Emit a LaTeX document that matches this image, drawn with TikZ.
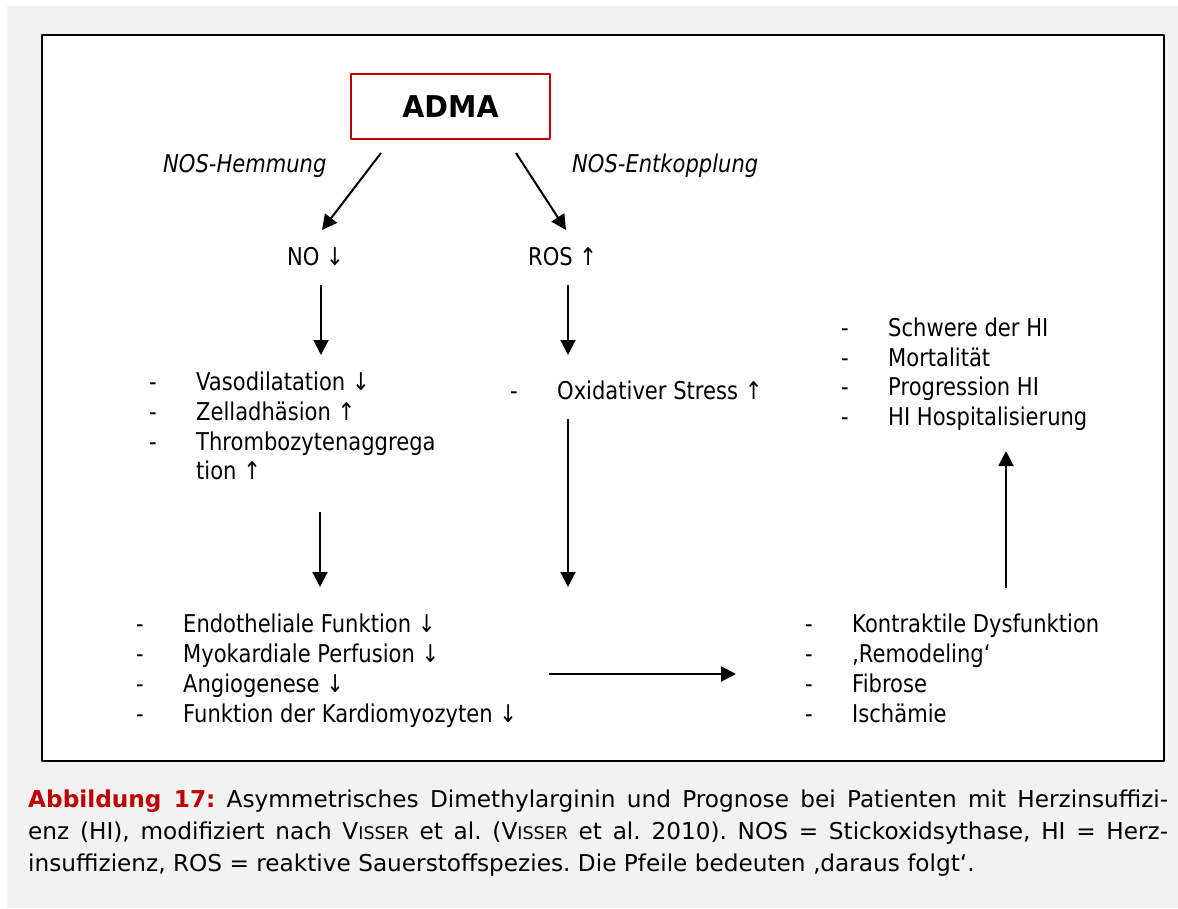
\documentclass[tikz,border=0pt]{standalone}
\usepackage{fontspec}
\setmainfont{DejaVu Sans}[FakeStretch=0.86, BoldFeatures={FakeStretch=0.95}]
\newfontfamily\capfont{DejaVu Sans}
\usetikzlibrary{arrows.meta}
\definecolor{abbrot}{HTML}{C00000}
\definecolor{hgrau}{HTML}{F2F2F2}
\newcommand{\strich}{\makebox[47pt][l]{-}}
\newcommand{\kap}[1]{{\fontsize{17.5}{20}\selectfont #1}}
\frenchspacing

\begin{document}
\begin{tikzpicture}[x=1pt, y=-1pt, line join=round,
  txt/.style={anchor=base west, inner sep=0pt, font=\fontsize{24.5}{29}\selectfont},
  kurs/.style={txt, font=\fontsize{24.5}{29}\selectfont\itshape},
  capt/.style={anchor=base west, inner sep=0pt, font=\capfont\fontsize{23.2}{27}\selectfont},
  pfeil/.style={line width=2pt, -{Triangle[length=15pt,width=15pt]}}]
\useasboundingbox (0,0) rectangle (1178,908);
\fill[white] (0,0) rectangle (1178,908);
\fill[hgrau] (7,6) rectangle (1178,908);
\draw[line width=2pt, fill=white] (42,35) rectangle (1164,761);

% Kopf
\node[draw=abbrot, line width=2pt, minimum width=199pt, minimum height=65pt, inner sep=0pt,
  font=\fontsize{30}{36}\selectfont\bfseries] (adma) at (450.5,106.5) {ADMA};
\node[kurs] (hemm) at (163,172) {NOS-Hemmung};
\node[kurs] (entk) at (572,172) {NOS-Entkopplung};
\node[txt] (no) at (287,265) {NO ↓};
\node[txt] (ros) at (528,265) {ROS ↑};

% Listen
\foreach \t [count=\i] in {Vasodilatation ↓, Zelladhäsion ↑, Thrombozytenaggrega}
  \node[txt] (va\i) at (149,360+30*\i) {\strich\t};
\node[txt] (va4) at (196,479) {tion ↑};
\node[txt] (ox) at (510,399) {\strich Oxidativer Stress ↑};
\foreach \t [count=\i] in {Endotheliale Funktion ↓, Myokardiale Perfusion ↓, Angiogenese ↓, Funktion der Kardiomyozyten ↓}
  \node[txt] (en\i) at (136,602+30*\i) {\strich\t};
\foreach \t [count=\i] in {Kontraktile Dysfunktion, ‚Remodeling‘, Fibrose, Ischämie}
  \node[txt] (ko\i) at (805,602+30*\i) {\strich\t};
\foreach \t [count=\i] in {Schwere der HI, Mortalität, Progression HI, HI Hospitalisierung}
  \node[txt] (sc\i) at (841,307+29.6*\i) {\strich\t};

% Pfeile
\coordinate (p1a) at (381,153);  \coordinate (p1b) at (322,230);
\coordinate (p2a) at (516,153);  \coordinate (p2b) at (566,230);
\coordinate (p3a) at (321,285);  \coordinate (p3b) at (321,355);
\coordinate (p4a) at (568,285);  \coordinate (p4b) at (568,355);
\coordinate (p5a) at (320,512);  \coordinate (p5b) at (320,587);
\coordinate (p6a) at (568,419);  \coordinate (p6b) at (568,587);
\coordinate (p7a) at (549,674);  \coordinate (p7b) at (736,674);
\coordinate (p8a) at (1006,588); \coordinate (p8b) at (1006,451);
\foreach \a in {1,...,8}
  \draw[pfeil] (p\a a) -- (p\a b);

% Bildunterschrift
\node[capt] (cap1) at (28,807) {\makebox[1140pt][s]{\textcolor{abbrot}{\bfseries Abbildung 17:} Asymmetrisches Dimethylarginin und Prognose bei Patienten mit Herzinsuffizi-}};
\node[capt] (cap2) at (28,839) {\makebox[1140pt][s]{enz (HI), modifiziert nach V\kap{ISSER} et al. (V\kap{ISSER} et al. 2010). NOS = Stickoxidsythase, HI = Herz-}};
\node[capt] (cap3) at (28,871) {insuffizienz, ROS = reaktive Sauerstoffspezies. Die Pfeile bedeuten ‚daraus folgt‘.};
\end{tikzpicture}
\end{document}
